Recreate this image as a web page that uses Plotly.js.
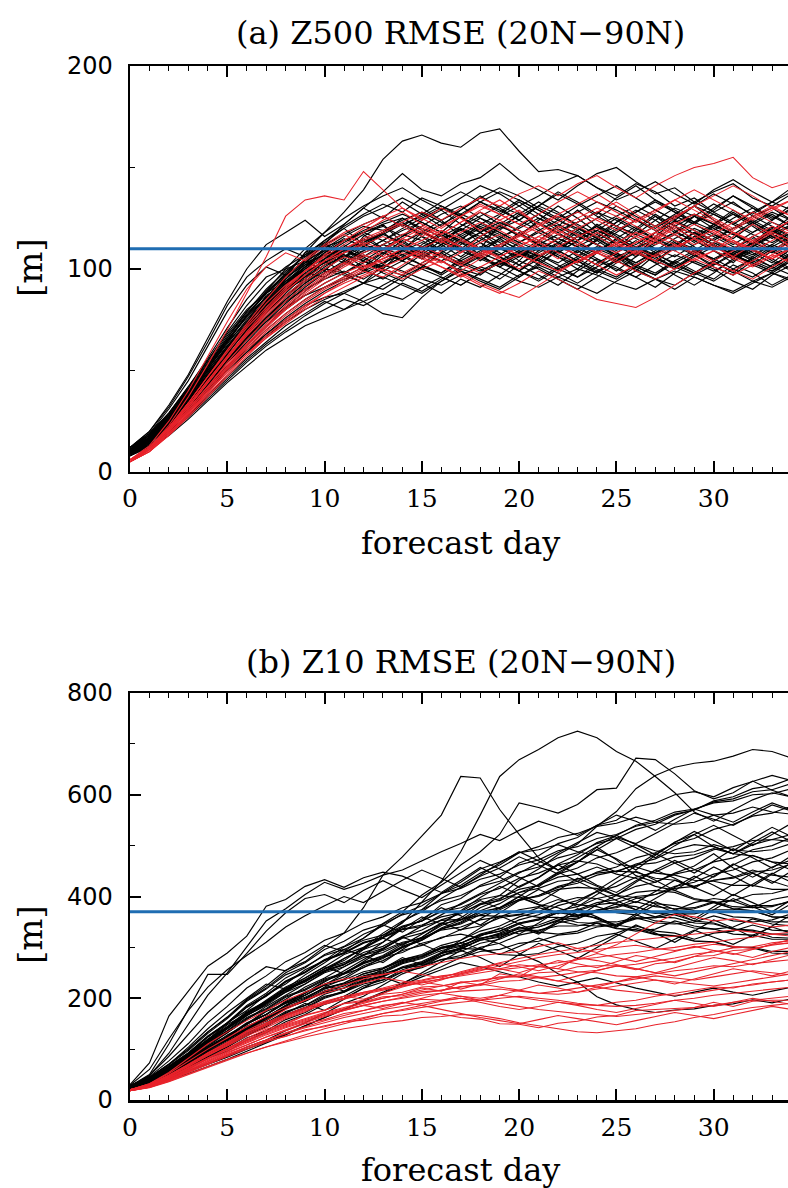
<!DOCTYPE html>
<html>
<head>
<meta charset="utf-8">
<script src="https://cdn.plot.ly/plotly-3.0.1.min.js"></script>
<style>
html,body{margin:0;padding:0;overflow:hidden;background:#fff;}
#chart{width:812px;height:1188px;}
</style>
</head>
<body>
<div id="chart"></div>
<script>
const days = [0,1,2,3,4,5,6,7,8,9,10,11,12,13,14,15,16,17,18,19,20,21,22,23,24,25,26,27,28,29,30,31,32,33,34];
const xTickVals = [0,5,10,15,20,25,30];
const titleA = "(a) Z500 RMSE (20N\u221290N)";
const titleB = "(b) Z10 RMSE (20N\u221290N)";
const xTitle = "forecast day";
const yTitle = "[m]";
const climZ500 = 110;
const climZ10 = 370;

const z500Black = [
[10,16,25,36,48,60,72,84,96,108,118,128,139,154,163,166,162,160,167,169,158,148,149,146,140,136,142,138,131,135,128,133,126,130,124],
[9,15,24,35,46,57,68,80,92,103,112,122,130,138,147,139,136,142,145,152,144,139,134,141,147,150,143,137,140,133,138,142,135,131,137],
[11,17,25,34,43,52,60,68,75,82,86,88,84,78,76,86,94,100,97,104,99,107,102,96,103,108,101,97,104,99,95,102,98,92,97],
[8,14,23,34,46,58,70,82,92,101,108,114,118,121,116,124,129,122,118,126,131,125,119,123,128,121,117,124,130,126,120,115,122,127,121],
[10,16,26,38,51,64,77,88,97,104,109,106,113,118,111,107,114,120,116,110,117,123,118,112,108,115,121,114,109,116,112,106,111,117,113],
[12,19,29,42,56,71,85,96,100,104,99,108,115,110,104,112,118,113,107,101,108,114,109,116,121,115,109,104,111,118,112,107,113,119,114],
[9,15,23,32,42,52,62,72,81,89,96,102,107,103,110,116,112,106,113,108,102,109,115,111,105,99,106,112,117,111,104,110,116,109,103],
[8,13,20,28,37,46,55,63,70,77,83,88,93,90,96,101,98,104,100,95,102,97,92,99,105,101,96,91,98,104,100,94,90,97,102],
[11,17,27,39,52,65,77,88,98,107,114,121,127,132,128,135,131,126,133,129,124,131,137,132,126,121,128,134,129,123,130,136,131,125,129],
[10,16,25,36,48,60,71,81,90,97,103,108,112,109,115,111,106,101,107,112,117,113,108,114,119,125,120,115,110,116,121,117,112,108,114],
[9,15,24,35,47,59,70,79,87,94,100,98,104,110,107,102,97,103,108,104,99,95,101,106,111,107,102,98,104,109,105,100,96,102,107],
[12,18,28,40,53,66,79,90,99,106,112,117,122,126,121,127,133,138,133,128,134,129,124,119,125,131,126,121,127,133,128,123,118,124,130],
[8,14,22,32,43,54,64,74,83,91,98,104,100,95,101,107,104,99,94,90,96,102,98,93,99,104,100,95,92,98,103,99,94,91,96],
[10,17,27,39,51,63,75,86,96,105,113,120,126,130,135,130,124,129,135,140,136,130,125,131,136,141,135,129,124,131,137,132,127,133,138],
[11,17,26,37,49,61,73,84,93,100,105,109,106,112,117,114,109,115,120,116,111,106,112,118,114,108,103,109,115,120,116,111,107,112,118],
[9,15,24,34,45,56,66,76,85,93,99,97,93,99,104,100,96,92,98,103,108,104,99,105,110,106,101,97,103,108,112,107,102,98,104],
[10,16,26,38,51,64,77,89,100,110,118,125,131,136,140,134,129,135,141,137,131,136,142,146,140,134,138,143,137,132,139,144,138,133,140],
[9,15,23,33,44,55,65,75,84,92,98,103,108,112,109,105,111,116,121,117,112,107,103,109,114,119,124,119,114,109,115,120,124,119,113],
[8,13,21,30,40,50,59,67,74,80,85,89,93,96,92,88,94,99,95,91,97,101,96,92,88,94,99,95,90,96,92,88,93,98,94],
[11,18,28,41,55,69,82,93,101,107,111,114,118,122,125,120,116,121,126,131,127,122,118,123,128,124,119,115,121,126,122,117,123,128,124],
[10,16,25,36,48,59,70,80,89,96,102,106,109,114,119,123,118,113,118,123,119,114,110,116,121,117,112,118,123,127,122,117,112,117,122],
[9,14,22,31,41,51,61,70,78,85,91,96,101,105,109,113,109,104,109,114,110,106,111,116,112,107,103,108,113,109,105,110,115,111,106],
[12,19,29,41,54,67,79,89,97,103,107,110,105,101,106,111,115,111,106,102,107,112,117,113,108,104,110,115,111,107,102,108,113,109,104],
[10,16,25,37,50,62,74,85,95,103,110,116,121,119,124,128,123,119,125,121,126,131,127,122,117,123,128,133,128,123,119,125,130,126,121],
[9,15,24,34,44,54,63,72,80,87,93,98,103,108,112,108,104,109,105,101,106,110,106,102,98,104,108,104,100,106,111,107,103,99,105],
[11,17,27,38,50,62,73,83,91,98,104,109,114,118,122,117,122,127,123,118,113,119,124,120,115,110,116,121,126,122,117,112,118,123,119],
[10,15,23,33,44,55,66,76,86,94,101,107,104,100,97,103,108,113,110,106,102,108,113,109,104,100,96,102,107,103,99,104,109,105,100],
[9,15,24,35,47,59,71,82,92,100,107,113,118,114,120,125,130,126,120,115,121,127,122,117,112,118,124,129,124,119,114,120,126,121,116],
[11,17,26,36,47,57,66,74,81,87,91,95,98,102,99,95,92,97,101,98,94,91,96,100,97,93,90,95,99,96,92,89,94,98,95],
[10,16,26,37,49,61,73,84,94,102,109,115,111,117,122,118,113,109,114,120,124,119,115,111,116,121,117,113,118,123,127,122,117,113,118],
[8,14,23,33,44,55,66,76,85,93,100,106,111,108,104,110,115,119,115,110,106,112,107,103,109,114,110,105,101,107,113,109,104,100,106],
[12,18,28,40,53,65,76,86,94,101,106,110,114,117,113,118,114,110,116,121,117,112,108,114,119,115,111,107,112,118,114,109,105,111,116],
[10,16,25,35,46,57,68,78,87,95,102,108,113,118,122,126,131,127,133,138,134,129,124,128,133,129,124,120,126,131,127,122,128,133,129],
[9,14,22,31,41,50,59,68,76,83,89,94,99,103,107,111,107,103,99,104,109,105,100,96,101,106,110,106,101,97,102,107,103,99,104],
[11,18,28,40,53,66,78,88,96,102,107,103,109,114,110,106,112,117,122,118,113,109,115,120,116,111,107,113,118,114,109,105,111,116,112],
[10,16,25,36,48,60,72,83,93,101,108,114,119,123,127,123,118,114,110,115,120,125,121,116,121,126,131,126,121,117,122,127,123,118,124],
[12,20,32,47,64,82,96,104,110,106,114,120,112,118,125,119,113,121,128,122,116,124,131,125,118,112,120,127,121,114,122,129,123,117,125],
[11,19,31,45,62,79,92,101,97,108,113,105,99,107,114,108,117,111,104,110,118,112,106,100,108,115,109,103,111,118,112,105,113,120,114],
[12,20,33,48,66,84,100,112,118,124,116,122,130,125,133,127,121,129,136,130,124,131,138,133,127,135,141,134,128,122,129,136,130,124,132],
[8,12,18,26,35,44,52,60,66,72,76,80,84,88,85,91,96,92,98,103,99,94,100,105,100,96,102,107,103,98,94,100,105,101,97],
[9,13,19,27,36,45,54,62,69,75,80,85,82,87,93,89,95,101,106,101,96,103,109,104,99,95,101,108,113,107,101,97,104,110,105],
[8,13,20,28,38,47,56,64,72,78,84,80,86,92,97,93,88,95,91,97,104,100,95,90,96,103,108,103,97,92,98,105,110,104,99],
[10,17,27,39,52,64,74,87,93,101,110,104,116,122,113,108,118,126,118,111,104,114,121,129,121,112,106,116,124,117,109,103,112,121,115],
[11,16,26,37,50,58,72,80,91,96,105,112,106,100,109,118,124,116,110,122,128,120,113,106,115,109,119,126,119,113,121,128,122,116,110],
[9,16,25,36,47,60,69,79,90,95,104,98,93,102,110,105,112,120,113,106,99,105,113,119,112,106,99,107,114,110,104,98,106,112,108],
[10,15,24,36,48,62,71,82,89,98,96,103,111,118,123,116,109,114,122,127,133,127,120,114,122,116,110,118,125,131,124,118,112,119,126],
[12,18,29,42,55,68,80,88,94,99,103,110,104,98,94,101,108,102,108,115,109,104,111,107,102,108,114,108,102,98,104,110,106,101,108],
[9,15,23,34,45,57,68,78,88,97,105,111,117,110,116,121,127,131,125,119,127,133,128,121,115,123,129,124,118,126,132,127,121,115,122],
[10,16,24,35,46,57,67,76,84,90,95,99,95,101,106,102,98,105,111,107,113,118,113,108,114,120,115,110,106,112,117,113,108,103,110],
[11,18,28,40,53,65,77,86,95,104,112,107,101,108,104,111,106,112,118,113,108,102,109,104,98,105,111,106,100,107,113,108,102,109,115]
];

const z500Red = [
[5,12,23,37,53,70,88,106,126,134,136,134,148,139,130,124,130,125,119,124,129,122,117,123,128,133,127,121,126,131,125,120,126,131,126],
[6,12,21,32,44,56,68,79,89,97,104,110,115,119,123,128,124,130,135,131,137,141,136,142,146,140,135,141,146,150,152,155,145,140,143],
[5,10,18,28,39,50,60,69,77,84,90,95,100,104,108,105,101,97,92,88,93,99,95,90,85,83,81,86,92,98,103,99,95,101,106],
[6,11,20,31,42,53,63,72,80,87,93,98,102,99,95,100,104,98,93,89,86,92,98,104,109,105,111,116,112,107,113,118,114,109,115],
[5,11,20,30,41,52,63,73,82,90,97,103,108,112,117,121,117,123,128,124,119,114,120,125,130,126,121,116,122,127,123,118,113,119,124],
[6,12,22,34,47,60,72,83,92,99,104,108,112,116,112,107,103,108,113,117,112,107,111,116,120,115,110,106,111,115,119,114,109,105,110],
[5,10,19,29,40,51,61,70,78,85,91,96,101,105,110,114,119,115,110,106,111,116,121,117,112,108,113,118,123,119,114,110,116,121,117],
[6,12,21,33,45,57,69,80,90,99,107,114,120,126,121,116,121,126,132,127,122,127,133,138,133,128,123,128,134,139,134,129,124,129,134],
[5,11,19,29,39,49,58,66,73,80,86,91,96,100,97,102,106,102,98,103,107,103,99,104,108,104,99,95,100,105,101,97,102,107,103],
[6,12,22,33,45,57,68,78,87,95,102,108,113,110,105,110,115,111,107,112,117,113,108,103,108,113,118,114,109,104,109,114,110,105,111],
[5,11,21,32,44,56,68,79,89,97,104,110,114,118,122,118,113,118,123,119,114,110,115,120,125,121,116,112,117,122,118,113,109,114,119],
[6,11,20,30,41,52,62,71,80,88,95,101,106,110,115,111,107,103,108,112,117,122,117,112,108,113,109,104,110,115,111,106,102,107,112],
[5,12,22,34,47,60,73,85,96,105,112,118,122,126,130,125,120,126,131,127,122,118,123,128,124,119,124,129,134,129,124,119,125,130,126],
[6,11,19,28,38,48,58,67,75,82,88,93,97,101,105,109,106,102,107,111,107,103,99,104,108,112,108,104,100,105,109,105,101,106,110],
[6,13,25,40,57,74,90,101,108,104,111,117,112,106,113,119,114,108,116,122,117,111,105,112,118,113,107,114,120,115,109,116,122,117,111],
[5,10,18,27,37,47,57,66,74,81,88,94,99,96,102,108,104,99,105,111,107,113,119,114,108,103,109,115,121,117,112,106,112,118,114],
[6,12,22,34,47,59,71,81,91,99,106,112,118,124,128,122,117,123,129,134,128,122,127,132,137,131,125,119,125,131,136,141,136,130,134],
[5,11,20,31,42,54,65,75,84,92,98,103,100,105,110,106,101,96,101,106,111,116,112,107,102,97,102,107,112,108,103,99,104,109,113],
[6,12,21,32,44,56,67,77,86,94,100,106,103,109,115,120,116,111,106,111,116,121,126,121,116,111,116,121,117,112,117,123,128,123,118],
[5,10,19,29,40,51,62,72,81,89,96,102,107,103,98,103,109,114,110,105,100,106,111,107,102,108,113,118,114,109,104,109,114,119,124]
];

const z10Black = [
[25,38,58,84,112,140,166,188,214,236,252,278,296,324,348,388,430,488,560,636,669,689,712,725,712,685,666,636,604,566,548,570,590,604,596],
[28,44,70,101,134,163,198,224,255,272,301,328,378,442,478,518,560,636,633,571,522,476,452,468,497,472,441,428,446,460,484,456,438,458,472],
[30,73,165,214,263,289,322,381,394,420,433,418,437,448,440,424,408,432,457,438,418,437,462,444,422,408,431,452,471,453,438,462,481,468,452],
[27,50,110,180,247,247,288,332,368,396,404,388,412,431,413,398,422,446,471,454,438,419,447,468,492,474,452,481,507,522,498,484,506,527,508],
[24,36,55,76,101,122,149,168,194,210,234,248,270,284,306,320,343,358,384,402,432,454,482,503,538,567,612,638,654,662,666,676,689,685,672],
[26,40,62,91,118,152,176,207,228,256,274,301,318,347,370,403,428,462,488,522,584,575,564,581,610,613,672,669,641,608,592,604,627,609,596],
[24,34,51,69,93,112,138,156,182,198,222,238,261,274,294,304,320,326,318,307,288,272,248,232,203,187,178,172,177,179,186,189,197,191,199],
[25,38,56,79,101,128,148,174,190,212,226,248,260,281,290,308,318,335,342,358,364,378,368,363,371,386,374,367,373,388,396,391,378,394,401],
[27,42,65,91,124,150,182,204,232,250,274,288,308,320,340,352,372,384,404,416,436,446,462,470,464,448,464,474,492,502,498,484,502,512,508],
[24,35,52,69,91,109,132,148,172,186,208,220,240,250,268,278,294,302,318,326,340,330,326,332,348,338,332,336,352,342,336,340,356,346,342],
[26,40,61,83,111,135,162,180,204,218,238,250,270,282,302,316,338,354,378,394,420,438,464,482,506,520,540,550,566,572,584,588,600,602,612],
[25,37,55,73,97,117,142,158,182,196,218,230,248,258,274,282,298,304,318,324,336,340,352,344,342,346,358,348,346,350,362,352,350,354,366],
[28,44,69,97,131,160,194,218,246,262,284,296,314,324,342,352,370,378,394,402,398,384,378,364,358,344,338,326,322,312,310,300,300,292,292],
[26,39,59,81,109,132,160,178,202,216,236,248,268,280,300,314,336,350,372,386,408,422,444,456,476,486,502,490,484,488,502,492,488,492,504],
[24,34,49,65,87,104,128,144,166,180,200,212,232,242,260,270,288,298,314,322,338,344,358,362,374,378,390,380,376,378,390,380,378,380,392],
[27,41,63,87,118,142,172,192,218,234,258,274,300,320,350,374,406,428,454,468,486,492,502,488,480,464,458,446,442,432,430,422,422,414,414],
[25,36,53,71,95,114,140,156,180,194,214,226,244,254,272,282,300,308,324,332,348,356,372,380,396,404,420,428,444,452,468,476,492,500,516],
[26,38,57,77,104,124,150,168,192,206,228,242,264,278,300,314,336,348,368,378,394,400,414,418,416,402,398,386,382,372,370,360,358,350,350],
[24,35,51,67,89,106,130,146,168,182,202,214,234,244,262,272,290,298,296,286,284,288,302,308,322,328,342,332,328,316,328,332,344,334,332],
[28,45,71,99,134,162,196,220,250,270,296,312,334,346,364,374,392,402,420,430,448,458,476,486,504,514,532,542,560,570,588,596,612,618,632],
[25,37,56,76,103,123,150,168,192,206,226,236,252,260,276,284,300,308,324,332,348,354,368,374,388,394,408,412,408,394,388,376,372,360,358],
[26,40,61,85,116,140,170,190,216,232,254,266,286,298,318,328,346,354,370,378,394,402,418,426,442,450,448,436,432,420,432,438,452,442,438],
[24,33,47,61,82,96,118,132,154,168,188,200,220,232,252,264,284,296,316,328,346,354,368,372,384,388,400,404,416,420,432,436,448,452,464],
[27,42,65,89,120,144,174,194,220,236,258,270,290,302,322,334,354,366,386,396,414,422,438,444,458,444,436,420,412,396,390,376,372,360,358],
[25,38,58,79,106,126,152,168,190,202,220,228,242,248,260,264,276,280,292,296,308,312,324,328,340,344,356,360,372,376,388,392,404,406,416],
[26,41,64,90,124,152,186,210,240,260,286,302,326,342,366,382,406,422,446,462,486,498,516,524,538,544,556,546,542,546,560,564,576,566,562],
[24,36,54,73,99,118,144,160,182,194,212,220,236,244,260,268,284,292,308,316,332,340,354,358,370,374,372,360,358,348,346,336,334,326,326],
[27,43,67,93,126,152,184,206,234,252,276,290,310,320,336,344,360,368,384,392,408,416,430,434,446,450,462,466,478,482,494,484,480,468,464],
[25,37,55,74,100,119,145,162,186,200,220,230,248,258,276,286,304,314,332,342,360,370,388,398,396,384,380,368,364,352,348,336,332,320,318],
[26,39,60,83,113,136,166,186,212,228,250,262,280,290,308,318,336,346,364,374,392,402,420,430,448,458,476,486,504,514,532,542,558,564,578],
[23,33,48,63,85,100,122,136,158,172,192,204,224,236,256,268,288,298,314,320,332,334,342,342,350,350,358,358,366,366,374,374,382,382,390],
[28,46,77,111,152,184,220,244,272,290,314,328,348,360,378,388,406,416,434,444,462,472,490,498,514,522,538,546,562,570,586,592,606,610,622],
[25,36,53,70,94,111,136,152,174,186,204,212,228,236,252,260,276,284,300,308,324,332,348,356,372,380,396,404,420,428,444,452,468,476,492],
[26,40,62,86,117,141,171,191,217,233,255,267,285,294,310,318,334,340,354,360,374,380,394,384,380,368,364,352,348,338,336,326,324,316,316],
[24,35,52,70,95,113,139,156,180,194,214,224,242,252,270,280,298,308,326,336,354,364,382,392,410,420,438,448,466,476,492,498,510,512,522],
[27,42,66,92,125,151,183,205,233,251,275,289,309,319,335,341,353,355,363,361,365,359,359,349,347,337,335,325,323,313,311,301,299,289,287],
[26,48,92,150,206,250,300,352,376,404,428,414,426,442,452,470,488,504,522,510,530,548,536,520,540,560,548,530,552,572,560,546,566,584,570],
[24,32,44,58,72,86,104,118,136,152,170,190,204,226,248,262,282,300,322,338,326,348,372,360,384,402,388,410,432,418,402,424,446,430,418],
[26,48,86,128,172,206,236,262,254,280,304,292,318,344,330,356,378,362,344,368,392,414,398,380,404,428,450,432,412,436,458,440,420,444,466],
[25,38,62,90,118,148,170,196,222,240,262,286,300,328,352,370,396,418,440,456,478,462,444,468,492,514,496,476,500,522,540,520,500,522,544],
[23,30,40,52,66,80,96,112,128,146,162,178,196,212,230,246,262,280,298,286,302,318,306,292,308,326,312,298,316,334,320,306,324,340,328],
[27,44,70,104,140,172,200,228,218,246,270,296,284,310,336,360,346,372,398,420,404,388,412,436,420,402,428,452,436,416,440,464,446,426,450],
[25,36,55,78,100,120,140,164,184,206,226,214,236,258,280,266,288,310,296,318,340,326,348,370,356,340,362,384,368,352,374,396,380,364,386],
[24,34,52,74,98,124,150,176,198,222,240,262,284,270,296,320,346,370,392,376,400,424,448,430,412,436,460,484,466,446,470,494,476,456,480],
[26,41,63,89,116,144,168,194,216,240,262,248,272,296,320,306,290,314,338,362,346,328,352,376,360,342,366,390,374,356,380,404,388,370,394],
[29,60,120,176,222,256,284,310,340,362,382,400,388,410,432,452,436,418,442,466,488,470,452,476,498,520,502,482,506,528,510,490,514,536,518],
[24,33,47,64,84,104,126,148,170,190,176,198,220,242,228,250,272,294,280,262,286,308,294,278,300,322,344,328,310,332,354,338,320,342,364],
[25,37,56,80,106,132,158,184,206,228,252,266,296,310,340,352,384,396,422,438,466,480,504,516,540,550,576,584,600,606,596,614,626,638,628],
[23,31,42,56,70,84,100,114,130,146,162,178,194,210,226,242,256,270,262,252,242,232,224,232,240,230,220,212,204,212,220,212,206,214,222],
[26,40,62,88,114,142,166,190,212,236,258,278,298,318,304,326,348,334,356,378,400,384,366,388,410,392,374,396,418,440,422,402,424,446,428],
[25,35,50,70,92,114,138,162,186,210,232,254,276,298,320,342,364,386,406,426,446,466,486,506,526,516,504,524,544,564,552,540,560,580,568]
];

const z10Red = [
[19,28,46,68,92,113,136,156,178,196,214,226,238,246,254,262,270,278,284,288,292,302,309,298,290,305,326,348,365,360,352,356,348,340,344],
[20,32,54,82,110,134,156,176,196,212,228,238,242,247,253,246,240,252,262,258,250,262,274,268,260,272,284,278,270,282,294,288,280,292,300],
[18,25,39,57,71,89,101,116,125,138,144,154,157,165,167,174,169,162,159,150,149,142,151,155,163,166,176,178,180,182,192,184,194,196,196],
[19,29,43,63,81,101,117,136,149,166,176,190,196,208,212,222,224,232,234,242,242,250,252,262,264,264,256,268,272,282,284,294,296,306,308],
[20,30,47,66,88,106,126,142,160,174,190,200,212,220,230,236,244,248,256,258,266,262,258,252,250,244,242,248,254,258,264,262,268,272,276],
[18,27,41,59,76,94,108,124,136,150,158,170,176,186,190,198,196,204,200,206,202,196,192,188,186,192,196,204,210,216,222,220,228,232,236],
[19,29,45,64,84,103,121,139,151,167,177,189,193,203,205,213,215,223,225,233,235,241,245,251,255,263,267,273,279,287,291,299,301,309,313],
[18,25,37,52,66,80,92,104,114,124,132,140,146,152,156,162,164,168,166,160,152,146,140,134,132,136,140,148,154,162,168,176,182,186,190],
[20,31,49,70,93,114,134,152,168,182,194,204,212,218,224,230,238,246,254,264,272,280,286,290,296,300,304,298,294,300,306,302,298,304,310],
[19,27,42,60,78,96,112,128,142,154,166,176,186,194,202,210,216,222,228,222,216,210,214,220,226,232,238,244,240,236,242,248,254,250,246],
[18,26,40,57,74,90,104,118,130,142,152,162,170,178,184,190,196,200,196,190,184,178,174,170,168,164,168,172,176,182,186,192,196,200,204],
[20,30,46,67,88,108,128,146,162,176,188,198,208,216,224,232,238,244,250,256,260,266,270,276,280,286,290,296,300,306,310,316,320,326,330],
[19,28,43,61,80,98,114,130,144,156,168,178,186,194,200,206,210,214,216,218,214,210,208,212,218,224,230,236,232,228,224,230,236,242,248],
[18,25,38,54,70,86,100,114,126,136,146,154,162,170,176,182,188,192,196,200,204,200,196,190,186,184,186,190,196,200,206,210,214,218,222],
[20,31,48,69,90,110,130,148,164,178,190,200,210,218,226,234,242,250,260,270,278,286,292,298,304,310,314,318,322,326,330,334,330,326,322],
[19,29,44,63,83,101,118,134,148,160,172,182,192,200,208,216,224,230,236,240,244,240,234,228,222,216,212,208,206,210,216,222,226,232,236],
[18,24,36,50,64,78,92,104,116,128,140,150,160,170,178,186,194,200,192,184,178,184,192,186,178,172,180,188,196,190,184,192,200,194,188],
[20,32,52,76,100,122,144,164,182,196,210,220,230,240,234,226,236,248,258,268,262,254,264,276,288,280,272,282,292,302,294,286,296,306,316],
[19,27,41,58,76,92,108,124,138,152,164,176,186,180,190,200,210,204,196,206,216,226,220,212,222,232,242,236,228,238,248,258,252,244,254],
[18,26,39,55,72,88,104,118,132,144,156,166,176,184,192,186,178,170,162,156,150,158,166,160,154,148,156,164,172,166,160,168,176,184,178],
[20,30,48,70,92,112,132,150,166,180,192,204,198,210,222,232,226,218,228,238,248,242,234,244,254,264,258,250,260,270,280,274,266,276,286],
[19,28,44,62,82,100,116,132,146,158,170,180,190,200,208,220,214,232,226,248,242,264,258,280,274,266,258,250,244,252,260,268,276,284,292]
];

const BLACK = "#000000";
const RED = "#e8232b";
const BLUE = "#1f6db2";

const traces = [];
function addGroup(arr, color, xa, ya, w) {
  arr.forEach(v => traces.push({x: days, y: v, type: "scatter", mode: "lines",
    line: {color: color, width: w}, xaxis: xa, yaxis: ya, hoverinfo: "skip", showlegend: false}));
}
addGroup(z500Black, BLACK, "x", "y", 1.15);
addGroup(z500Red, RED, "x", "y", 1.05);
addGroup(z10Black, BLACK, "x2", "y2", 1.15);
addGroup(z10Red, RED, "x2", "y2", 1.05);
traces.push({x: [0, 35], y: [climZ500, climZ500], type: "scatter", mode: "lines",
  line: {color: BLUE, width: 3}, xaxis: "x", yaxis: "y", hoverinfo: "skip", showlegend: false});
traces.push({x: [0, 35], y: [climZ10, climZ10], type: "scatter", mode: "lines",
  line: {color: BLUE, width: 3}, xaxis: "x2", yaxis: "y2", hoverinfo: "skip", showlegend: false});

const serif = "DejaVu Serif, serif";
const sans = "DejaVu Sans, sans-serif";

function xAxis(anchor) {
  return {anchor: anchor, range: [0, 35], tickvals: xTickVals, ticktext: xTickVals.map(String),
    ticks: "inside", ticklen: 11, tickwidth: 2, tickcolor: "#000",
    minor: {dtick: 1, tick0: 0, ticks: "inside", ticklen: 5, tickwidth: 1, tickcolor: "#000"},
    showline: true, linewidth: 2.5, linecolor: "#000", mirror: "ticks",
    showgrid: false, zeroline: false, ticklabelstandoff: 3,
    tickfont: {family: serif, size: 25, color: "#000"}};
}
function yAxis(anchor, domain, range, dt, mdt) {
  return {anchor: anchor, domain: domain, range: range, dtick: dt, tick0: 0,
    ticks: "inside", ticklen: 11, tickwidth: 2, tickcolor: "#000",
    minor: {dtick: mdt, tick0: 0, ticks: "inside", ticklen: 5, tickwidth: 1, tickcolor: "#000"},
    showline: true, linewidth: 2.5, linecolor: "#000", mirror: "ticks",
    showgrid: false, zeroline: false, ticklabelstandoff: 10,
    tickfont: {family: sans, size: 24, color: "#000"}};
}

const layout = {
  width: 812, height: 1188,
  margin: {l: 130, r: 1, t: 66, b: 88},
  paper_bgcolor: "#fff", plot_bgcolor: "#fff",
  showlegend: false,
  xaxis: xAxis("y"),
  yaxis: yAxis("x", [0.6074, 1], [0, 200], 100, 50),
  xaxis2: xAxis("y2"),
  yaxis2: yAxis("x2", [0, 0.3936], [0, 800], 200, 100),
  annotations: [
    {text: titleA, xref: "paper", yref: "paper", x: 0.486, y: 1.0319, showarrow: false,
      xanchor: "center", yanchor: "middle", font: {family: serif, size: 32, color: "#000"}},
    {text: titleB, xref: "paper", yref: "paper", x: 0.486, y: 0.4236, showarrow: false,
      xanchor: "center", yanchor: "middle", font: {family: serif, size: 32, color: "#000"}},
    {text: xTitle, xref: "paper", yref: "paper", x: 0.486, y: 0.5387, showarrow: false,
      xanchor: "center", yanchor: "middle", font: {family: serif, size: 32, color: "#000"}},
    {text: xTitle, xref: "paper", yref: "paper", x: 0.486, y: -0.0677, showarrow: false,
      xanchor: "center", yanchor: "middle", font: {family: serif, size: 32, color: "#000"}},
    {text: yTitle, xref: "paper", yref: "paper", x: -0.1468, y: 0.8046, showarrow: false, textangle: -90,
      xanchor: "center", yanchor: "middle", font: {family: serif, size: 34, color: "#000"}},
    {text: yTitle, xref: "paper", yref: "paper", x: -0.1468, y: 0.1596, showarrow: false, textangle: -90,
      xanchor: "center", yanchor: "middle", font: {family: serif, size: 34, color: "#000"}}
  ]
};

Plotly.newPlot("chart", traces, layout, {displayModeBar: false, responsive: false, staticPlot: true});
</script>
</body>
</html>
